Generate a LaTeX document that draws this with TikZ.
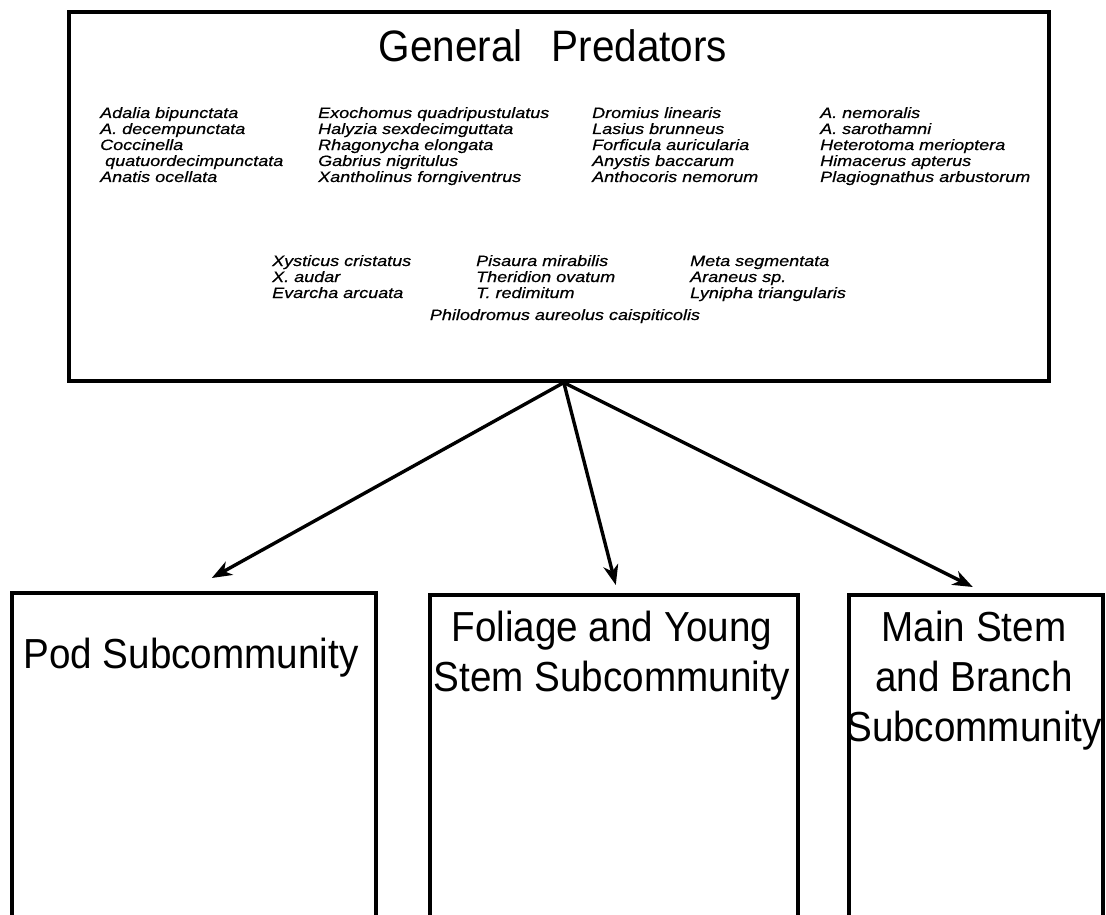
\documentclass[tikz,border=0pt]{standalone}
\usepackage{fontspec}
\newfontfamily\listfont[FakeStretch=1.2, FakeBold=0.6]{Liberation Sans}
\newfontfamily\labelfont[FakeStretch=0.92]{Liberation Sans}
\usetikzlibrary{arrows.meta}

\begin{document}
\begin{tikzpicture}[x=1pt, y=-1pt,
    box/.style={draw, line width=3.6pt, inner sep=0pt, anchor=north west},
    species/.style={font=\listfont\itshape\fontsize{15}{16}\selectfont, anchor=base west, inner sep=0pt},
    sublabel/.style={font=\labelfont\fontsize{42}{50}\selectfont, align=center, inner sep=0pt},
    link/.style={-{Stealth[length=20pt, width=15pt, inset=6pt]}, line width=3.4pt}]
    \useasboundingbox (0,0) rectangle (1106,915);
    \clip (0,0) rectangle (1106,915);

    % general predators box
    \node[box, minimum width=980pt, minimum height=369pt] (general) at (67,10) {};
    \node[font=\labelfont\fontsize{44}{50}\selectfont, anchor=base, inner sep=0pt] (title) at (553,62) {General\hspace{29pt}Predators};

    % insects, four columns
    \foreach \name [count=\i] in {Adalia bipunctata, A. decempunctata, Coccinella, \hspace*{5pt}quatuordecimpunctata, Anatis ocellata}
    \node[species] (colA\i) at (100,102+16*\i) {\name};
    \foreach \name [count=\i] in {Exochomus quadripustulatus, Halyzia sexdecimguttata, Rhagonycha elongata, Gabrius nigritulus, Xantholinus forngiventrus}
    \node[species] (colB\i) at (318,102+16*\i) {\name};
    \foreach \name [count=\i] in {Dromius linearis, Lasius brunneus, Forficula auricularia, Anystis baccarum, Anthocoris nemorum}
    \node[species] (colC\i) at (592,102+16*\i) {\name};
    \foreach \name [count=\i] in {A. nemoralis, A. sarothamni, Heterotoma merioptera, Himacerus apterus, Plagiognathus arbustorum}
    \node[species] (colD\i) at (820,102+16*\i) {\name};

    % spiders
    \foreach \name [count=\i] in {Xysticus cristatus, X. audar, Evarcha arcuata}
    \node[species] (spA\i) at (272,250+16*\i) {\name};
    \foreach \name [count=\i] in {Pisaura mirabilis, Theridion ovatum, T. redimitum}
    \node[species] (spB\i) at (476,250+16*\i) {\name};
    \foreach \name [count=\i] in {Meta segmentata, Araneus sp., Lynipha triangularis}
    \node[species] (spC\i) at (690,250+16*\i) {\name};
    \node[species, anchor=base] (spD) at (565,320) {Philodromus aureolus caispiticolis};

    % subcommunities
    \node[box, minimum width=364pt, minimum height=400pt] (pod) at (10,591) {};
    \node[box, minimum width=368pt, minimum height=400pt] (foliage) at (428,593) {};
    \node[box, minimum width=254pt, minimum height=400pt] (mainstem) at (847,593) {};
    \node[sublabel, anchor=base] (podlabel) at (191,668) {Pod Subcommunity};
    \node[sublabel, anchor=north] (foliagelabel) at (612,611) {Foliage and Young\\Stem Subcommunity};
    \node[sublabel, anchor=north] (mainlabel) at (974,611) {Main Stem\\and Branch\\Subcommunity};

    % arrows
    \coordinate (hub) at ([xshift=5pt]general.south);
    \coordinate (podtip) at ([xshift=18pt,yshift=13pt]pod.north);
    \coordinate (foliagetip) at ([xshift=2pt,yshift=8pt]foliage.north);
    \coordinate (maintip) at ([xshift=-3pt,yshift=6pt]mainstem.north);
    \draw[link] (hub) -- (podtip);
    \draw[link] (hub) -- (foliagetip);
    \draw[link] (hub) -- (maintip);
\end{tikzpicture}
\end{document}
